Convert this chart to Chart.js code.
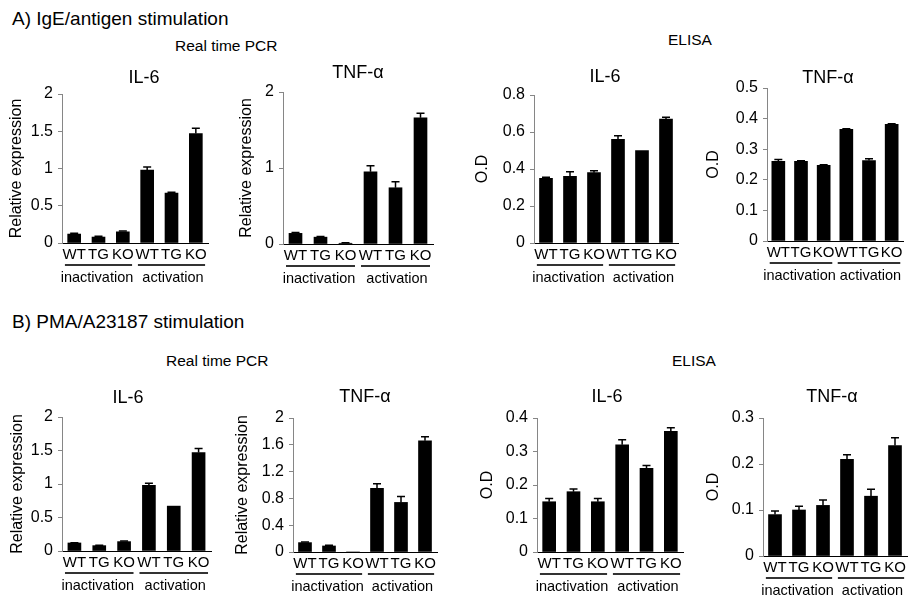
<!DOCTYPE html>
<html>
<head>
<meta charset="utf-8">
<script src="https://cdn.jsdelivr.net/npm/chart.js@4.4.1/dist/chart.umd.min.js"></script>
<style>
  body { margin: 0; background: #fff; font-family: "Liberation Sans", Arial, sans-serif; }
  #wrap { position: relative; width: 920px; height: 605px; overflow: hidden; }
  canvas { position: absolute; left: 0; top: 0; }
  .lbl { position: absolute; color: #000; white-space: nowrap; line-height: 1; }
</style>
</head>
<body>
<div id="wrap">
  <div class="lbl" style="left:12px;top:9px;font-size:19px">A) IgE/antigen stimulation</div>
  <div class="lbl" style="left:175px;top:38px;font-size:15.5px">Real time PCR</div>
  <div class="lbl" style="left:668px;top:32px;font-size:15.5px">ELISA</div>
  <div class="lbl" style="left:12px;top:312px;font-size:19px">B) PMA/A23187 stimulation</div>
  <div class="lbl" style="left:166px;top:353px;font-size:15.5px">Real time PCR</div>
  <div class="lbl" style="left:672px;top:353px;font-size:15.5px">ELISA</div>
  <canvas id="a1" width="920" height="605"></canvas>
  <canvas id="a2" width="920" height="605"></canvas>
  <canvas id="a3" width="920" height="605"></canvas>
  <canvas id="a4" width="920" height="605"></canvas>
  <canvas id="b1" width="920" height="605"></canvas>
  <canvas id="b2" width="920" height="605"></canvas>
  <canvas id="b3" width="920" height="605"></canvas>
  <canvas id="b4" width="920" height="605"></canvas>
</div>
<script>
const categories = ['WT', 'TG', 'KO', 'WT', 'TG', 'KO'];
const groups = ['inactivation', 'activation'];

// A) IgE/antigen stimulation
const aPcrIl6 = [0.12, 0.08, 0.15, 0.98, 0.67, 1.47];
const aPcrIl6Err = [0.01, 0.01, 0.01, 0.04, 0.01, 0.07];
const aPcrTnf = [0.14, 0.09, 0.01, 0.95, 0.74, 1.66];
const aPcrTnfErr = [0.01, 0.01, 0.005, 0.08, 0.08, 0.06];
const aElisaIl6 = [0.35, 0.36, 0.38, 0.56, 0.50, 0.67];
const aElisaIl6Err = [0.005, 0.025, 0.01, 0.02, 0, 0.01];
const aElisaTnf = [0.26, 0.26, 0.247, 0.365, 0.263, 0.381];
const aElisaTnfErr = [0.006, 0.002, 0.002, 0.002, 0.006, 0.002];

// B) PMA/A23187 stimulation
const bPcrIl6 = [0.12, 0.08, 0.14, 0.98, 0.67, 1.47];
const bPcrIl6Err = [0.005, 0.005, 0.01, 0.03, 0, 0.06];
const bPcrTnf = [0.14, 0.09, 0, 0.95, 0.74, 1.66];
const bPcrTnfErr = [0.01, 0.01, 0, 0.07, 0.09, 0.06];
const bElisaIl6 = [0.15, 0.18, 0.15, 0.32, 0.25, 0.36];
const bElisaIl6Err = [0.01, 0.008, 0.01, 0.015, 0.008, 0.011];
const bElisaTnf = [0.09, 0.10, 0.11, 0.21, 0.13, 0.24];
const bElisaTnfErr = [0.008, 0.008, 0.012, 0.01, 0.015, 0.017];

// y tick labels
const ticksPcrHalf = [0, 0.5, 1, 1.5, 2];
const ticksPcrOne = [0, 1, 2];
const ticksPcrFine = [0, 0.4, 0.8, 1.2, 1.6, 2];
const ticksOd08 = [0, 0.2, 0.4, 0.6, 0.8];
const ticksOd05 = [0, 0.1, 0.2, 0.3, 0.4, 0.5];
const ticksOd04 = [0, 0.1, 0.2, 0.3, 0.4];
const ticksOd03 = [0, 0.1, 0.2, 0.3];

const FONT = 'Liberation Sans, Arial, sans-serif';
Chart.defaults.font.family = FONT;
Chart.defaults.color = '#000';

// error bars, panel titles, group underlines
const extras = {
  id: 'extras',
  afterDatasetsDraw(chart, args, opts) {
    const ctx = chart.ctx, x = chart.scales.x, y = chart.scales.y;
    const vals = chart.data.datasets[0].data;
    ctx.save();
    ctx.strokeStyle = '#000';
    ctx.lineWidth = 1.5;
    opts.errors.forEach((e, i) => {
      if (!e) return;
      const cx = x.getPixelForValue(i);
      const y0 = y.getPixelForValue(vals[i]);
      const y1 = y.getPixelForValue(vals[i] + e);
      ctx.beginPath();
      ctx.moveTo(cx, y0);
      ctx.lineTo(cx, y1);
      ctx.moveTo(cx - 4, y1);
      ctx.lineTo(cx + 4, y1);
      ctx.stroke();
    });
    ctx.restore();
  },
  afterDraw(chart, args, opts) {
    const ctx = chart.ctx, x = chart.scales.x, y = chart.scales.y;
    const w = x.getPixelForValue(1) - x.getPixelForValue(0);
    const base = y.getPixelForValue(0);
    ctx.save();
    ctx.fillStyle = '#000';
    ctx.textAlign = 'center';
    ctx.textBaseline = 'middle';
    ctx.font = '18px ' + FONT;
    ctx.fillText(opts.title, opts.titleX, opts.titleY);
    ctx.strokeStyle = '#333';
    ctx.lineWidth = 2;
    ctx.font = '14.5px ' + FONT;
    groups.forEach((g, k) => {
      const l = x.getPixelForValue(k * 3) - w * 0.38;
      const r = x.getPixelForValue(k * 3 + 2) + w * 0.38;
      ctx.beginPath();
      ctx.moveTo(l, base + 22);
      ctx.lineTo(r, base + 22);
      ctx.stroke();
      ctx.fillText(g, (l + r) / 2 + (k ? 1.5 : -1.5), base + 35);
    });
    ctx.restore();
  }
};

function panel(id, values, errors, ticks, p) {
  const padLeft = p.yTitleX - 9.6;
  const xHeight = 40;
  new Chart(document.getElementById(id), {
    type: 'bar',
    data: {
      labels: categories,
      datasets: [{ data: values, backgroundColor: '#000', barThickness: 13 }]
    },
    options: {
      responsive: false,
      animation: false,
      layout: {
        padding: { left: padLeft, top: p.top, right: 920 - p.right, bottom: 605 - p.zero - xHeight }
      },
      scales: {
        x: {
          grid: { display: false, drawTicks: false },
          border: { color: '#000', width: 1 },
          ticks: { font: { size: 15 }, color: '#000', padding: 3, maxRotation: 0, autoSkip: false },
          afterFit: s => { s.height = xHeight; }
        },
        y: {
          min: 0,
          max: ticks[ticks.length - 1],
          afterBuildTicks: s => { s.ticks = ticks.map(v => ({ value: v })); },
          afterFit: s => { s.width = p.axis - padLeft; },
          grid: { drawOnChartArea: false, tickLength: 4, color: '#868686' },
          border: { color: '#868686', width: 1 },
          ticks: { font: { size: 16 }, color: '#000', padding: 5, callback: v => String(v) },
          title: { display: true, text: p.yTitle, font: { size: 16 }, color: '#000', padding: 0 }
        }
      },
      plugins: {
        legend: { display: false },
        tooltip: { enabled: false },
        extras: { errors: errors, title: p.title, titleX: p.titleX, titleY: p.titleY }
      }
    },
    plugins: [extras]
  });
}

panel('a1', aPcrIl6, aPcrIl6Err, ticksPcrHalf,
  { axis: 62, top: 94, zero: 243, right: 208, yTitle: 'Relative expression', yTitleX: 17, title: 'IL-6', titleX: 144, titleY: 78 });
panel('a2', aPcrTnf, aPcrTnfErr, ticksPcrOne,
  { axis: 283, top: 92, zero: 244, right: 433, yTitle: 'Relative expression', yTitleX: 247, title: 'TNF-α', titleX: 358, titleY: 73 });
panel('a3', aElisaIl6, aElisaIl6Err, ticksOd08,
  { axis: 534, top: 95, zero: 243, right: 678, yTitle: 'O.D', yTitleX: 483, title: 'IL-6', titleX: 605, titleY: 77 });
panel('a4', aElisaTnf, aElisaTnfErr, ticksOd05,
  { axis: 767, top: 88, zero: 241, right: 903, yTitle: 'O.D', yTitleX: 714, title: 'TNF-α', titleX: 828, titleY: 78 });
panel('b1', bPcrIl6, bPcrIl6Err, ticksPcrHalf,
  { axis: 62, top: 417, zero: 551, right: 211, yTitle: 'Relative expression', yTitleX: 18, title: 'IL-6', titleX: 128, titleY: 398 });
panel('b2', bPcrTnf, bPcrTnfErr, ticksPcrFine,
  { axis: 293, top: 418, zero: 552, right: 437, yTitle: 'Relative expression', yTitleX: 243, title: 'TNF-α', titleX: 365, titleY: 397 });
panel('b3', bElisaIl6, bElisaIl6Err, ticksOd04,
  { axis: 537, top: 418, zero: 552, right: 683, yTitle: 'O.D', yTitleX: 488, title: 'IL-6', titleX: 607, titleY: 397 });
panel('b4', bElisaTnf, bElisaTnfErr, ticksOd03,
  { axis: 763, top: 418, zero: 556, right: 907, yTitle: 'O.D', yTitleX: 714, title: 'TNF-α', titleX: 832, titleY: 397 });
</script>
</body>
</html>
